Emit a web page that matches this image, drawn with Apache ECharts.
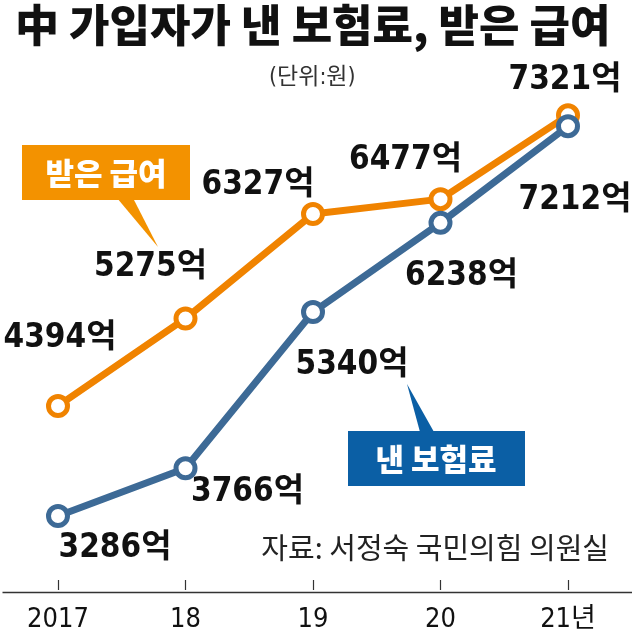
<!DOCTYPE html>
<html>
<head>
<meta charset="utf-8">
<script src="https://cdn.jsdelivr.net/npm/echarts@6/dist/echarts.min.js"></script>
<style>
html,body{margin:0;padding:0;background:#fff;}
#c{width:632px;height:644px;}
</style>
</head>
<body>
<div id="c"></div>
<script>
const categories = ['2017', '18', '19', '20', '21년'];
const benefits = [4394, 5275, 6327, 6477, 7321];   // 받은 급여
const premiums = [3286, 3766, 5340, 6238, 7212];   // 낸 보험료
const benefitLabelOffsets = [[2, -68], [-35, -51], [-55, -29], [-35, -39], [-3, -35]];
const premiumLabelOffsets = [[57, 32], [62, 24], [39, 53], [21, 54], [7, 74]];

const NARROW = '"DejaVu Sans Condensed", "Noto Sans CJK KR", sans-serif';
const KR = '"Noto Sans CJK KR", sans-serif';
const ORANGE = '#F08300';
const BLUE = '#3D6A96';

function mkData(vals, offs) {
  return vals.map((v, i) => ({
    value: v,
    label: { position: 'inside', offset: offs[i] }
  }));
}

const chart = echarts.init(document.getElementById('c'), null, { renderer: 'canvas' });
chart.setOption({
  animation: false,
  backgroundColor: '#fff',
  title: [
    { text: '中 가입자가 낸 보험료, 받은 급여', left: 10, top: -2,
      textStyle: { fontFamily: KR, fontWeight: 900, fontSize: 44, color: '#111' } },
    { text: '(단위:원)', left: 264, top: 62,
      textStyle: { fontFamily: NARROW, fontWeight: 'normal', fontSize: 23, color: '#333' } },
    { text: '자료: 서정숙 국민의힘 의원실', right: 18, top: 528,
      textStyle: { fontFamily: KR, fontWeight: 'normal', fontSize: 29, color: '#222' } }
  ],
  grid: { left: 58, right: 64, top: 40, bottom: 54, containLabel: false },
  xAxis: {
    type: 'category',
    data: categories,
    boundaryGap: false,
    axisLine: { show: false },
    axisTick: { show: true, inside: true, length: 10, lineStyle: { color: '#333', width: 1.2 } },
    axisLabel: { fontFamily: NARROW, fontSize: 27, color: '#111', margin: 16 }
  },
  yAxis: {
    type: 'value', min: 2540, max: 8080, show: false, splitLine: { show: false }
  },
  graphic: [
    { type: 'line', left: 0, top: 590, shape: { x1: 0, y1: 0, x2: 632, y2: 0 },
      style: { stroke: '#333', lineWidth: 1.5 }, z: 0 },
    { type: 'group', left: 22, top: 145, children: [
      { type: 'polygon', shape: { points: [[95, 53], [111, 53], [136, 102]] }, style: { fill: '#F39200' } },
      { type: 'rect', shape: { x: 0, y: 0, width: 168, height: 55 }, style: { fill: '#F39200' } },
      { type: 'text', style: { x: 84, y: 28, text: '받은 급여', align: 'center', verticalAlign: 'middle',
        fill: '#fff', font: '900 31px "Noto Sans CJK KR", sans-serif' } }
    ]},
    { type: 'group', left: 348, top: 384, children: [
      { type: 'polygon', shape: { points: [[59, 2], [72, 50], [86, 50]] }, style: { fill: '#0B5FA5' } },
      { type: 'rect', shape: { x: 0, y: 49, width: 177, height: 55 }, style: { fill: '#0B5FA5' } },
      { type: 'text', style: { x: 88, y: 77, text: '낸 보험료', align: 'center', verticalAlign: 'middle',
        fill: '#fff', font: '900 31px "Noto Sans CJK KR", sans-serif' } }
    ]}
  ],
  series: [
    {
      name: '받은 급여', type: 'line', data: mkData(benefits, benefitLabelOffsets),
      symbol: 'circle', symbolSize: 19, z: 3,
      lineStyle: { color: ORANGE, width: 7 },
      itemStyle: { color: '#fff', borderColor: ORANGE, borderWidth: 5 },
      label: { show: true, formatter: p => p.value + '억', fontFamily: NARROW, fontWeight: 'bold', fontSize: 33, color: '#111' }
    },
    {
      name: '낸 보험료', type: 'line', data: mkData(premiums, premiumLabelOffsets),
      symbol: 'circle', symbolSize: 19, z: 4,
      lineStyle: { color: BLUE, width: 7 },
      itemStyle: { color: '#fff', borderColor: BLUE, borderWidth: 5 },
      label: { show: true, formatter: p => p.value + '억', fontFamily: NARROW, fontWeight: 'bold', fontSize: 33, color: '#111' }
    }
  ]
});
</script>
</body>
</html>
